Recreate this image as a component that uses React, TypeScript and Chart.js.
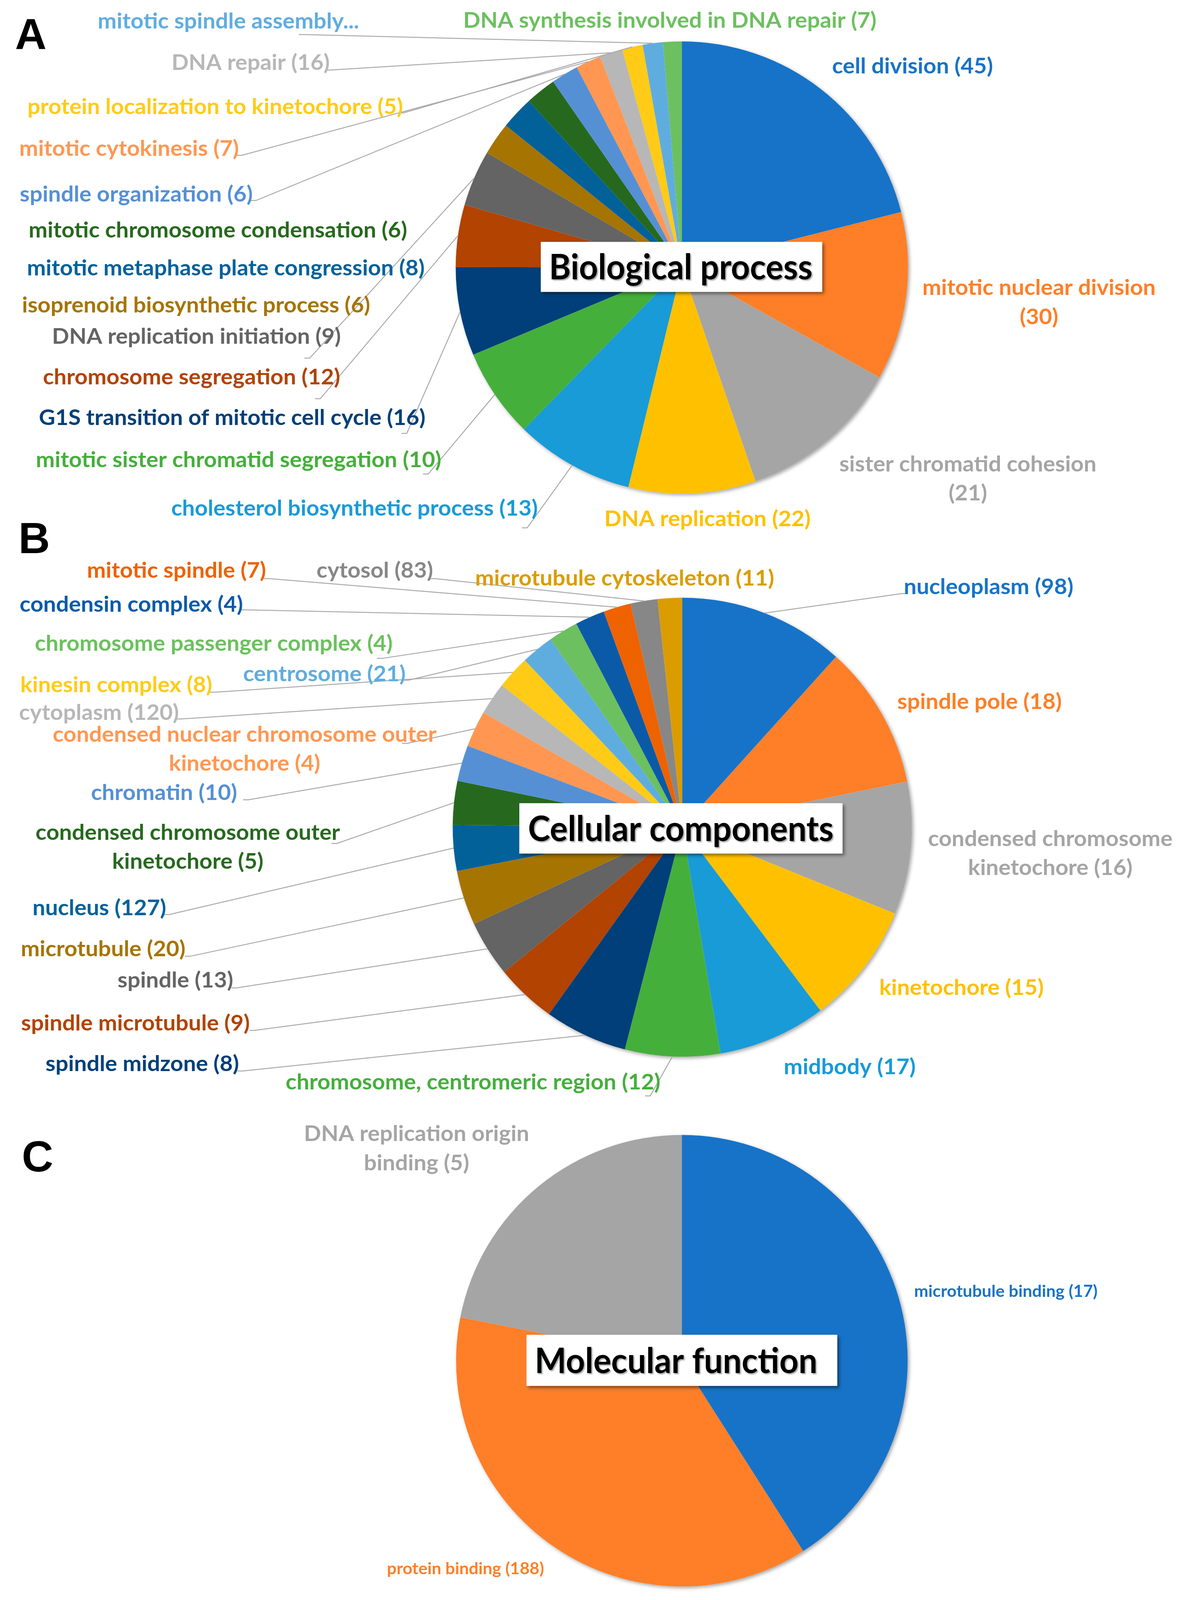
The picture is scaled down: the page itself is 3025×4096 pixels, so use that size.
import React, { useEffect, useRef } from "react";
import { Chart, registerables } from "chart.js";

Chart.register(...registerables);

// ---------------- scale & page ----------------
const S = 3025 / 3141;
const PAGE_W = 3025;
const PAGE_H = 4096;
const LABEL_FONT = "Lato, 'Open Sans', 'DejaVu Sans', sans-serif";
const LETTER_FONT = "'Liberation Sans', Arial, sans-serif";

// ---------------- A: Biological process ----------------
const bpCategories = [
  "cell division",
  "mitotic nuclear division",
  "sister chromatid cohesion",
  "DNA replication",
  "cholesterol biosynthetic process",
  "mitotic sister chromatid segregation",
  "G1S transition of mitotic cell cycle",
  "chromosome segregation",
  "DNA replication initiation",
  "isoprenoid biosynthetic process",
  "mitotic metaphase plate congression",
  "mitotic chromosome condensation",
  "spindle organization",
  "mitotic cytokinesis",
  "DNA repair",
  "protein localization to kinetochore",
  "mitotic spindle assembly...",
  "DNA synthesis involved in DNA repair",
];
const bpCounts: (number | null)[] = [45, 30, 21, 22, 13, 10, 16, 12, 9, 6, 8, 6, 6, 7, 16, 5, null, 7];
// slice sizes as drawn (degrees of arc)
const bpSlice = [75.8, 43.3, 41.9, 32.7, 30.6, 23.0, 22.8, 16.0, 14.4, 8.4, 8.5, 7.9, 7.0, 6.5, 5.9, 5.3, 5.2, 4.8];
const bpColors = [
  "#1773C8", "#FE7F27", "#A5A5A5", "#FFC000", "#189BD7", "#45AF3C",
  "#003F79", "#B24300", "#646464", "#A67400", "#03619A", "#26691E",
  "#5590D5", "#FF9752", "#B7B7B7", "#FFCB17", "#5FADDF", "#6CC05F",
];

// ---------------- B: Cellular components ----------------
const ccCategories = [
  "nucleoplasm",
  "spindle pole",
  "condensed chromosome kinetochore",
  "kinetochore",
  "midbody",
  "chromosome, centromeric region",
  "spindle midzone",
  "spindle microtubule",
  "spindle",
  "microtubule",
  "nucleus",
  "condensed chromosome outer kinetochore",
  "chromatin",
  "condensed nuclear chromosome outer kinetochore",
  "cytoplasm",
  "kinesin complex",
  "centrosome",
  "chromosome passenger complex",
  "condensin complex",
  "mitotic spindle",
  "cytosol",
  "microtubule cytoskeleton",
];
const ccCounts: (number | null)[] = [98, 18, 16, 15, 17, 12, 8, 9, 13, 20, 127, 5, 10, 4, 120, 8, 21, 4, 4, 7, 83, 11];
const ccSlice = [42.05, 36.45, 33.6, 30.9, 27.4, 24.1, 21.0, 15.4, 14.2, 13.9, 11.6, 11.1, 9.1, 9.2, 8.2, 8.5, 8.3, 7.5, 7.5, 7.0, 6.8, 6.2];
const ccColors = [
  "#1773C8", "#FE7F27", "#A5A5A5", "#FFC000", "#189BD7", "#45AF3C",
  "#003F79", "#B24300", "#646464", "#A67400", "#03619A", "#26691E",
  "#5590D5", "#FF9752", "#B7B7B7", "#FFCB17", "#5FADDF", "#6CC05F",
  "#0B5AA8", "#EE6200", "#878787", "#DB9C00",
];

// ---------------- C: Molecular function ----------------
const mfCategories = ["microtubule binding", "protein binding", "DNA replication origin binding"];
const mfCounts: (number | null)[] = [17, 188, 5];
const mfSlice = [147.5, 133.6, 78.9];
const mfColors = ["#1773C8", "#FE7F27", "#A5A5A5"];

// ---------------- layout (reference pixel coordinates) ----------------
type Lbl = { x: number; y: number; wrap?: number; lx?: number; ly?: number; small?: boolean };

const bpLayout: Lbl[] = [
  { x: 2425, y: 177 },
  { x: 2761, y: 766, wrap: 3 },
  { x: 2572, y: 1235, wrap: 3 },
  { x: 1880, y: 1380 },
  { x: 942, y: 1352, lx: 1401, ly: 1403 },
  { x: 634, y: 1224, lx: 1138, ly: 1260 },
  { x: 617, y: 1111, lx: 1081, ly: 1152 },
  { x: 509, y: 1003, lx: 851, ly: 1060 },
  { x: 522, y: 895, lx: 823, ly: 952 },
  { x: 521, y: 812 },
  { x: 600, y: 714 },
  { x: 579, y: 613 },
  { x: 362, y: 517, lx: 680, ly: 533 },
  { x: 343, y: 396, lx: 642, ly: 413 },
  { x: 666, y: 168, lx: 879, ly: 186 },
  { x: 572, y: 285, lx: 1072, ly: 300 },
  { x: 607, y: 57, lx: 808, ly: 92 },
  { x: 1780, y: 55 },
];

const ccLayout: Lbl[] = [
  { x: 2627, y: 1561, lx: 2395, ly: 1578 },
  { x: 2603, y: 1866 },
  { x: 2791, y: 2231, wrap: 2 },
  { x: 2555, y: 2626 },
  { x: 2258, y: 2837 },
  { x: 1257, y: 2878, lx: 1728, ly: 2913 },
  { x: 378, y: 2829, lx: 645, ly: 2847 },
  { x: 360, y: 2721, lx: 677, ly: 2739 },
  { x: 466, y: 2607, lx: 629, ly: 2626 },
  { x: 274, y: 2523, lx: 505, ly: 2542 },
  { x: 264, y: 2414, lx: 450, ly: 2431 },
  { x: 499, y: 2214, wrap: 3, lx: 895, ly: 2242 },
  { x: 436, y: 2108, lx: 660, ly: 2126 },
  { x: 650, y: 1953, wrap: 4, lx: 1082, ly: 1976 },
  { x: 263, y: 1895, lx: 482, ly: 1911 },
  { x: 309, y: 1822, lx: 572, ly: 1840 },
  { x: 862, y: 1793, lx: 1086, ly: 1808 },
  { x: 568, y: 1712, lx: 1016, ly: 1750 },
  { x: 349, y: 1608, lx: 655, ly: 1621 },
  { x: 469, y: 1517, lx: 715, ly: 1538 },
  { x: 996, y: 1517, lx: 1156, ly: 1538 },
  { x: 1660, y: 1538 },
];

const mfLayout: Lbl[] = [
  { x: 2673, y: 3434, small: true },
  { x: 1237, y: 4171, small: true },
  { x: 1107, y: 3015, wrap: 3 },
];

const LABEL_PX = 57;
const LINE_GAP = 77;
const SMALL = 0.75;
const REF_TEXT = "mitotic chromosome condensation (6)";
const REF_W = 1006;
const TITLE_PX = 94;
const LETTER_PX = 116;

type Panel = {
  key: string;
  top: number;
  height: number;
  cx: number;
  cy: number;
  r: number;
  categories: string[];
  counts: (number | null)[];
  values: number[];
  colors: string[];
  layout: Lbl[];
  title: string;
  box: [number, number, number, number];
  titleX: number;
  titleW: number;
  letter: string;
  letterX: number;
  letterY: number;
};

const panels: Panel[] = [
  {
    key: "A", top: 0, height: 1450, cx: 1812, cy: 711, r: 601,
    categories: bpCategories, counts: bpCounts, values: bpSlice, colors: bpColors, layout: bpLayout,
    title: "Biological process", box: [1437, 643, 2185, 776], titleX: 1459, titleW: 700,
    letter: "A", letterX: 40, letterY: 131,
  },
  {
    key: "B", top: 1370, height: 1620, cx: 1813, cy: 2199, r: 610,
    categories: ccCategories, counts: ccCounts, values: ccSlice, colors: ccColors, layout: ccLayout,
    title: "Cellular components", box: [1380, 2135, 2239, 2269], titleX: 1403, titleW: 812,
    letter: "B", letterX: 49, letterY: 1470,
  },
  {
    key: "C", top: 2960, height: 1293, cx: 1812, cy: 3617, r: 600,
    categories: mfCategories, counts: mfCounts, values: mfSlice, colors: mfColors, layout: mfLayout,
    title: "Molecular function", box: [1399, 3548, 2225, 3684], titleX: 1421, titleW: 751,
    letter: "C", letterX: 58, letterY: 3114,
  },
];

function labelText(cat: string, count: number | null) {
  return count == null ? cat : `${cat} (${count})`;
}
function splitLines(text: string, wrap?: number) {
  if (!wrap) return [text];
  const w = text.split(" ");
  return [w.slice(0, wrap).join(" "), w.slice(wrap).join(" ")];
}

function makePlugin(p: Panel) {
  const topPx = Math.round(p.top * S);
  const X = (v: number) => v * S;
  const Y = (v: number) => v * S - topPx;
  return {
    id: "panelDecor" + p.key,
    beforeDatasetsDraw(chart: any) {
      const a = chart.getDatasetMeta(0).data[0];
      if (!a) return;
      const ctx = chart.ctx as CanvasRenderingContext2D;
      ctx.save();
      ctx.shadowColor = "rgba(0,0,0,0.35)";
      ctx.shadowBlur = 10;
      ctx.shadowOffsetX = 4;
      ctx.shadowOffsetY = 4;
      ctx.fillStyle = "#ffffff";
      ctx.beginPath();
      ctx.arc(a.x, a.y, a.outerRadius, 0, Math.PI * 2);
      ctx.fill();
      ctx.restore();
    },
    afterDatasetsDraw(chart: any) {
      const ctx = chart.ctx as CanvasRenderingContext2D;
      const meta = chart.getDatasetMeta(0);
      ctx.save();
      // leader lines
      ctx.strokeStyle = "#ABABAB";
      ctx.lineWidth = 2.5;
      p.layout.forEach((L, i) => {
        if (L.lx == null || L.ly == null) return;
        const arc = meta.data[i];
        if (!arc) return;
        const mid = (arc.startAngle + arc.endAngle) / 2;
        const ex = arc.x + Math.cos(mid) * arc.outerRadius;
        const ey = arc.y + Math.sin(mid) * arc.outerRadius;
        const sx = X(L.lx);
        const sy = Y(L.ly);
        const dir = sx < ex ? -1 : 1;
        ctx.beginPath();
        ctx.moveTo(sx + dir * 14 * S, sy);
        ctx.lineTo(sx, sy);
        ctx.lineTo(ex, ey);
        ctx.stroke();
      });
      // labels
      ctx.font = `bold ${LABEL_PX * S}px ${LABEL_FONT}`;
      const fx = (REF_W * S) / ctx.measureText(REF_TEXT).width;
      ctx.textAlign = "center";
      ctx.textBaseline = "middle";
      p.layout.forEach((L, i) => {
        const size = LABEL_PX * S * (L.small ? SMALL : 1);
        ctx.font = `bold ${size}px ${LABEL_FONT}`;
        ctx.fillStyle = p.colors[i];
        const lines = splitLines(labelText(p.categories[i], p.counts[i]), L.wrap);
        lines.forEach((ln, k) => {
          ctx.save();
          ctx.translate(X(L.x), Y(L.y + k * LINE_GAP));
          ctx.scale(fx, 1);
          ctx.fillText(ln, 0, 0);
          ctx.restore();
        });
      });
      // title box
      const [bx0, by0, bx1, by1] = p.box;
      ctx.save();
      ctx.shadowColor = "rgba(0,0,0,0.45)";
      ctx.shadowBlur = 8;
      ctx.shadowOffsetX = 5;
      ctx.shadowOffsetY = 5;
      ctx.fillStyle = "#ffffff";
      ctx.fillRect(X(bx0), Y(by0), (bx1 - bx0) * S, (by1 - by0) * S);
      ctx.restore();
      ctx.save();
      ctx.font = `bold ${TITLE_PX * S}px ${LABEL_FONT}`;
      const tw = ctx.measureText(p.title).width;
      const tfx = (p.titleW * S) / tw;
      ctx.translate(X(p.titleX), Y(by0 + 0.75 * (by1 - by0)));
      ctx.scale(tfx, 1);
      ctx.textAlign = "left";
      ctx.textBaseline = "alphabetic";
      ctx.shadowColor = "rgba(0,0,0,0.35)";
      ctx.shadowBlur = 3;
      ctx.shadowOffsetX = 3;
      ctx.shadowOffsetY = 3;
      ctx.fillStyle = "#000000";
      ctx.fillText(p.title, 0, 0);
      ctx.restore();
      // panel letter
      ctx.font = `bold ${LETTER_PX * S}px ${LETTER_FONT}`;
      ctx.textAlign = "left";
      ctx.textBaseline = "alphabetic";
      ctx.fillStyle = "#000000";
      ctx.fillText(p.letter, X(p.letterX), Y(p.letterY));
      ctx.restore();
    },
  };
}

function PiePanel({ p }: { p: Panel }) {
  const ref = useRef<HTMLCanvasElement>(null);
  const topPx = Math.round(p.top * S);
  const hPx = Math.min(Math.round(p.height * S), PAGE_H - topPx);
  useEffect(() => {
    const canvas = ref.current;
    if (!canvas) return;
    const padLeft = (p.cx - p.r) * S;
    const padRight = PAGE_W - (p.cx + p.r) * S;
    const padTop = (p.cy - p.r) * S - topPx;
    const padBottom = hPx - ((p.cy + p.r) * S - topPx);
    const chart = new Chart(canvas, {
      type: "pie",
      data: {
        labels: p.categories,
        datasets: [
          {
            data: p.values,
            backgroundColor: p.colors,
            borderWidth: 0,
            hoverOffset: 0,
            offset: 0,
          } as any,
        ],
      },
      options: {
        responsive: false,
        animation: false,
        events: [],
        layout: { padding: { left: padLeft, right: padRight, top: padTop, bottom: padBottom } },
        plugins: { legend: { display: false }, tooltip: { enabled: false }, title: { display: false } },
      } as any,
      plugins: [makePlugin(p) as any],
    });
    return () => chart.destroy();
  }, []);
  return (
    <canvas
      ref={ref}
      width={PAGE_W}
      height={hPx}
      style={{ position: "absolute", left: 0, top: topPx, width: PAGE_W, height: hPx, display: "block" }}
    />
  );
}

export default function App() {
  return (
    <div
      style={{
        position: "absolute",
        left: 0,
        top: 0,
        width: PAGE_W,
        height: PAGE_H,
        background: "#ffffff",
        overflow: "hidden",
      }}
    >
      {panels.map((p) => (
        <PiePanel key={p.key} p={p} />
      ))}
    </div>
  );
}
